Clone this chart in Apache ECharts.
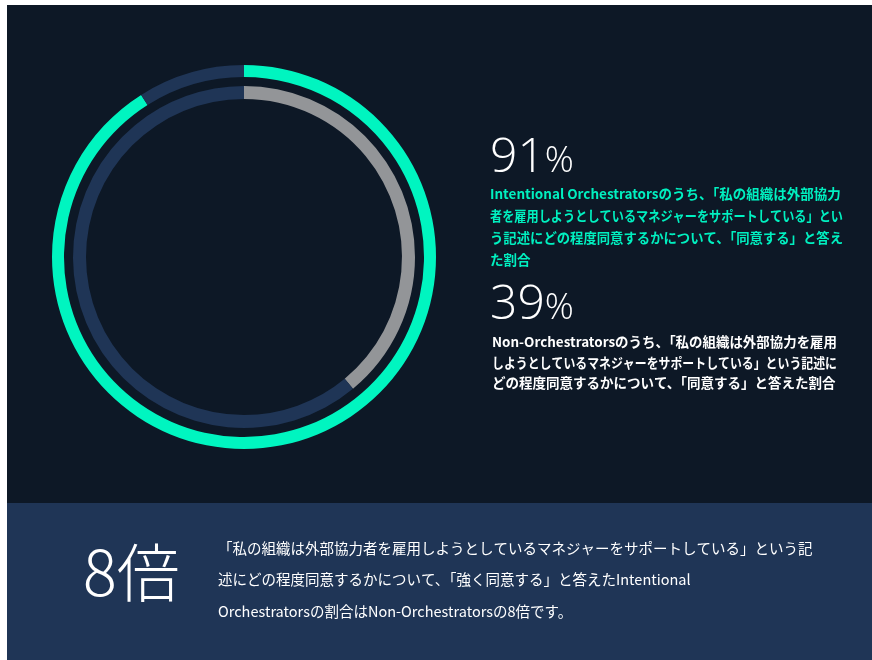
<!DOCTYPE html>
<html>
<head>
<meta charset="utf-8">
<script src="https://cdn.jsdelivr.net/npm/echarts@6/dist/echarts.min.js"></script>
<style>
  html, body { margin: 0; padding: 0; background: #ffffff; }
  #chart { width: 872px; height: 660px; }
</style>
</head>
<body>
<div id="chart"></div>
<script>
// Share of respondents who agree (percent), per group
const groups = ['Intentional Orchestrators', 'Non-Orchestrators'];
const agreeShare = [91, 39];
const ringColors = ['#00f5c0', '#939598'];
const trackColor = '#1f3556';

// Caption lines drawn under each percentage
const captionOrch = [
  'Intentional Orchestratorsのうち、「私の組織は外部協力',
  '者を雇用しようとしているマネジャーをサポートしている」とい',
  'う記述にどの程度同意するかについて、「同意する」と答え',
  'た割合'
];
const captionNon = [
  'Non-Orchestratorsのうち、「私の組織は外部協力を雇用',
  'しようとしているマネジャーをサポートしている」という記述に',
  'どの程度同意するかについて、「同意する」と答えた割合'
];

// Bottom banner
const multiple = 8;
const bannerLines = [
  '「私の組織は外部協力者を雇用しようとしているマネジャーをサポートしている」という記',
  '述にどの程度同意するかについて、「強く同意する」と答えたIntentional',
  'Orchestratorsの割合はNon-Orchestratorsの8倍です。'
];

const FONT = '"Noto Sans CJK JP", "Noto Sans", sans-serif';
const chart = echarts.init(document.getElementById('chart'), null, { renderer: 'canvas' });

// Measures a line so that it can be narrowed to fit its text box
const measureCtx = document.createElement('canvas').getContext('2d');
function textWidth(str, font) {
  measureCtx.font = font;
  return measureCtx.measureText(str).width;
}

// One text element per line; lines wider than the box are squeezed horizontally
function textBlock(lines, x, y, lineHeight, boxWidth, font, fill) {
  return lines.map((line, k) => {
    const w = textWidth(line, font);
    const sx = w > boxWidth ? boxWidth / w : 1;
    return {
      type: 'text', x: x, y: y + k * lineHeight, scaleX: sx, silent: true,
      style: { text: line, font: font, fill: fill, verticalAlign: 'middle' }
    };
  });
}

const radii = [[180, 192], [158, 171]];
const series = agreeShare.map((v, i) => ({
  type: 'pie',
  name: groups[i],
  center: [244, 257],
  radius: radii[i],
  startAngle: 90,
  clockwise: true,
  silent: true,
  animation: false,
  label: { show: false },
  labelLine: { show: false },
  emphasis: { disabled: true },
  itemStyle: { borderWidth: 0 },
  data: [
    { value: v, itemStyle: { color: ringColors[i] } },
    { value: 100 - v, itemStyle: { color: trackColor } }
  ]
}));

function bigPct(v, x, y) {
  return {
    type: 'text', x: x, y: y, silent: true,
    style: {
      text: '{n|' + v + '}{p|%}',
      rich: {
        n: { font: '300 48px "Open Sans", ' + FONT, fill: '#ffffff', verticalAlign: 'bottom' },
        p: { font: '300 36px "Open Sans", ' + FONT, fill: '#ffffff', verticalAlign: 'bottom', padding: [0, 0, 2, 0] }
      }
    }
  };
}

chart.setOption({
  backgroundColor: '#ffffff',
  animation: false,
  graphic: [].concat(
    [
      { type: 'rect', shape: { x: 7, y: 5, width: 865, height: 498 }, style: { fill: '#0d1826' }, silent: true, z: -10 },
      { type: 'rect', shape: { x: 7, y: 503, width: 865, height: 157 }, style: { fill: '#1f3556' }, silent: true, z: -10 },
      bigPct(agreeShare[0], 490, 134),
      bigPct(agreeShare[1], 490, 281),
      {
        type: 'text', x: 83, y: 572, silent: true,
        style: { text: multiple + '倍', font: '300 63px ' + FONT, fill: '#ffffff', verticalAlign: 'middle' }
      }
    ],
    textBlock(captionOrch, 490, 194, 21.8, 353, '600 13.5px ' + FONT, '#00f0c0'),
    textBlock(captionNon, 492, 342, 20.5, 345, '600 13.5px ' + FONT, '#ffffff'),
    textBlock(bannerLines, 218, 548, 31.7, 597, '400 14.5px ' + FONT, '#ffffff')
  ),
  series: series
});
</script>
</body>
</html>
